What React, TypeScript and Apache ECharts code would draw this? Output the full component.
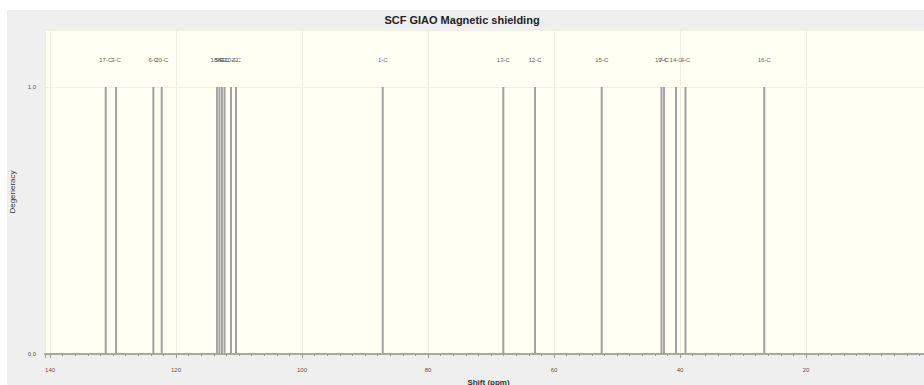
import React, { useEffect, useRef } from "react";
import * as echarts from "echarts";

const shifts = [131.16, 129.52, 123.6, 122.27, 113.49, 113.1, 112.7, 112.3, 111.27, 110.48, 87.19, 68.05, 63.02, 52.43, 42.94, 42.54, 40.63, 39.13, 26.63];
const degeneracy = [1, 1, 1, 1, 1, 1, 1, 1, 1, 1, 1, 1, 1, 1, 1, 1, 1, 1, 1];
const peakLabels = ["17-C", "3-C", "6-C", "20-C", "18-C", "5-C", "8-C", "9-C", "10-C", "2-C", "1-C", "13-C", "12-C", "15-C", "19-C", "7-C", "14-C", "4-C", "16-C"];
const titleText = "SCF GIAO Magnetic shielding";
const xName = "Shift (ppm)";
const yName = "Degeneracy";

export default function App() {
  const ref = useRef<HTMLDivElement>(null);
  useEffect(() => {
    if (!ref.current) return;
    const chart = echarts.init(ref.current, null, { renderer: "svg" });
    const data = shifts.map((s, i) => [s, degeneracy[i]]);
    chart.setOption({
      animation: false,
      backgroundColor: "#efefef",
      textStyle: { fontFamily: "Liberation Sans, Arial, sans-serif" },
      graphic: [
        {
          type: "text",
          x: 455,
          y: 10,
          style: {
            text: titleText,
            fontSize: 11,
            fontWeight: "bold",
            fill: "#222",
            align: "center",
            verticalAlign: "middle",
            fontFamily: "Liberation Sans, Arial, sans-serif",
          },
        },
      ],
      grid: {
        left: 38,
        right: 8,
        top: 20,
        bottom: 31,
        show: true,
        backgroundColor: "#fffff4",
        borderWidth: 0,
        containLabel: false,
        outerBoundsMode: "none",
      },
      xAxis: {
        type: "value",
        inverse: true,
        min: 0,
        max: 140.8,
        interval: 20,
        offset: 3,
        name: xName,
        nameLocation: "middle",
        nameGap: 21,
        nameTextStyle: { fontSize: 8, color: "#333", fontWeight: "bold" },
        axisLine: { show: true, lineStyle: { color: "#a8a8a8", width: 2 } },
        axisTick: { show: true, length: 4, lineStyle: { color: "#999" } },
        minorTick: { show: true, splitNumber: 10, length: 2, lineStyle: { color: "#999" } },
        axisLabel: { fontSize: 6, color: "#555", margin: 10, showMaxLabel: false, showMinLabel: false },
        splitLine: { show: true, lineStyle: { color: "#efefe6", width: 1 } },
      },
      yAxis: {
        type: "value",
        min: 0,
        max: 1.213,
        interval: 1,
        name: yName,
        nameLocation: "middle",
        nameGap: 24,
        nameRotate: 90,
        nameTextStyle: { fontSize: 8, color: "#333" },
        axisLine: { show: true, lineStyle: { color: "#a8a8a8", width: 2 } },
        axisTick: { show: true, length: 5, lineStyle: { color: "#999" } },
        axisLabel: {
          fontSize: 6,
          color: "#555",
          margin: 9,
          showMaxLabel: false,
          formatter: (v: number) => v.toFixed(1),
        },
        splitLine: { show: true, lineStyle: { color: "#efefe6", width: 1 } },
      },
      series: [
        {
          type: "custom",
          data,
          renderItem: (params: any, api: any) => {
            const x = api.value(0);
            const d = api.value(1);
            const p0 = api.coord([x, 0]);
            const p1 = api.coord([x, d]);
            return {
              type: "group",
              children: [
                {
                  type: "line",
                  shape: { x1: p0[0], y1: p0[1], x2: p1[0], y2: p1[1] },
                  style: { stroke: "#a2a2a2", lineWidth: 2 },
                },
                {
                  type: "text",
                  x: p1[0],
                  y: p1[1] - 27,
                  style: {
                    text: peakLabels[params.dataIndex],
                    fontSize: 6,
                    fill: "#666",
                    align: "center",
                    verticalAlign: "middle",
                    fontFamily: "Liberation Sans, Arial, sans-serif",
                  },
                },
              ],
            };
          },
        },
      ],
    });
    return () => chart.dispose();
  }, []);
  return (
    <div
      style={{
        position: "absolute",
        left: 0,
        top: 0,
        width: 924,
        height: 385,
        overflow: "hidden",
        background: "#ffffff",
      }}
    >
      <div
        ref={ref}
        style={{ position: "absolute", left: 7, top: 10, width: 933, height: 375 }}
      />
    </div>
  );
}
